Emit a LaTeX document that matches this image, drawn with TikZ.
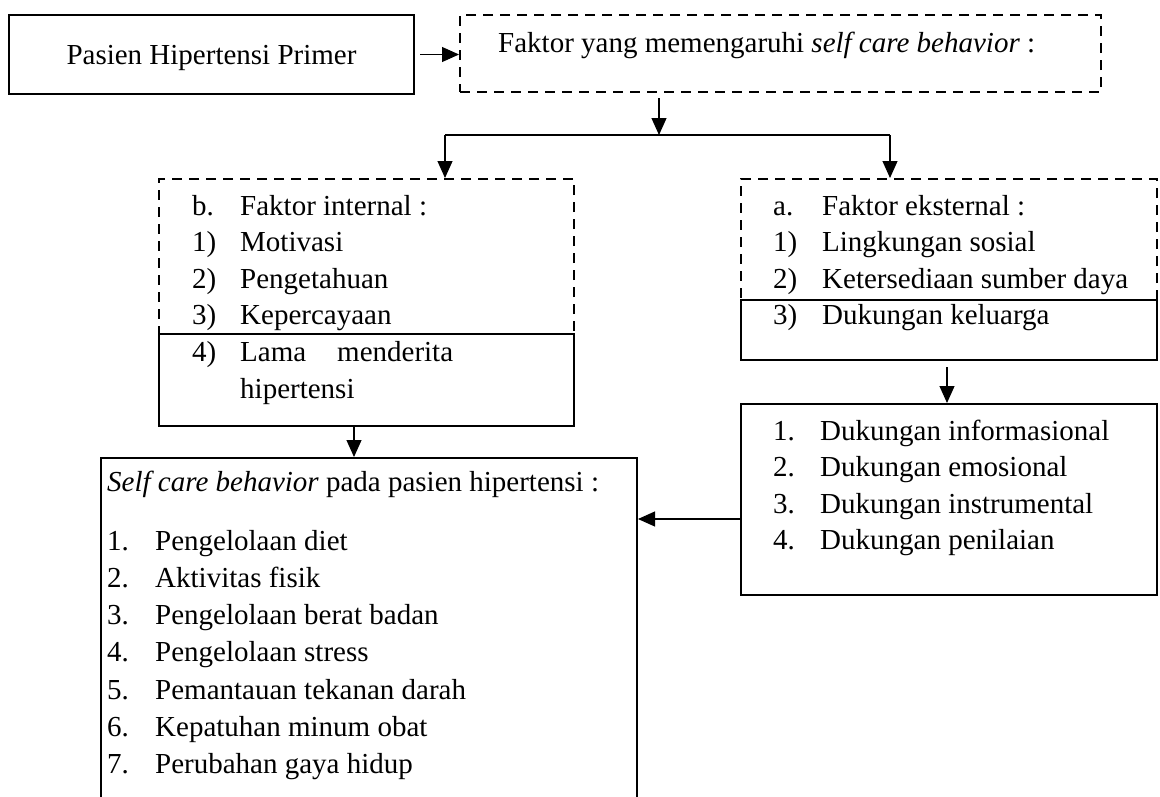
\documentclass[tikz,border=0pt]{standalone}
\usepackage{fontspec}
\setmainfont{Liberation Serif}
\usetikzlibrary{arrows.meta}

\begin{document}
\begin{tikzpicture}[x=1pt,y=-1pt,
  font=\fontsize{29}{36.7}\selectfont,
  kotak/.style={draw,line width=2pt,inner sep=0pt,anchor=north west},
  kotakputus/.style={kotak,dash pattern=on 10pt off 7pt},
  teks/.style={anchor=base west,inner sep=0pt},
  panah/.style={line width=1.1pt,-{Triangle[length=17pt,width=15pt]}}]
  \useasboundingbox (0,0) rectangle (1160,796);
  \clip (0,0) rectangle (1160,796);

  % kotak-kotak
  \node[kotak,minimum width=405pt,minimum height=79pt,text depth=0pt] (pasien) at (8,14) {Pasien Hipertensi Primer};
  \node[kotakputus,minimum width=641pt,minimum height=77pt] (faktor) at (459,14) {};
  \node[kotakputus,minimum width=415pt,minimum height=247pt] (internal) at (158,178) {};
  \node[kotak,line width=2.4pt,minimum width=415pt,minimum height=92pt] (lama) at (158,333) {};
  \node[kotakputus,minimum width=416pt,minimum height=181pt] (eksternal) at (740,178) {};
  \node[kotak,line width=2.4pt,minimum width=416pt,minimum height=60pt] (keluarga) at (740,299) {};
  \node[kotak,minimum width=416pt,minimum height=191pt] (dukungan) at (740,403) {};
  \node[kotak,minimum width=536pt,minimum height=370pt] (selfcare) at (100,457) {};

  % teks
  \node[teks] (faktorteks) at (498,52) {Faktor yang memengaruhi \textit{self care behavior} :};

  \foreach \lab/\isi [count=\i from 0] in {b./Faktor internal :,1)/Motivasi,2)/Pengetahuan,
      3)/Kepercayaan,4)/Lama\hspace{31pt}menderita}{
    \node[teks] (intlab\i) at (192,215+36.6*\i) {\lab};
    \node[teks] (int\i) at (240,215+36.6*\i) {\isi};
  }
  \node[teks] (int5) at (240,398) {hipertensi};

  \foreach \lab/\isi [count=\i from 0] in {a./Faktor eksternal :,1)/Lingkungan sosial,
      2)/Ketersediaan sumber daya,3)/Dukungan keluarga}{
    \node[teks] (ekslab\i) at (773,215+36.6*\i) {\lab};
    \node[teks] (eks\i) at (822,215+36.6*\i) {\isi};
  }

  \foreach \isi [count=\i] in {Dukungan informasional,Dukungan emosional,
      Dukungan instrumental,Dukungan penilaian}{
    \node[teks] (duklab\i) at (773,403.4+36.6*\i) {\i.};
    \node[teks] (duk\i) at (820,403.4+36.6*\i) {\isi};
  }

  \node[teks] (judul) at (107,491) {\textit{Self care behavior} pada pasien hipertensi :};
  \foreach \isi [count=\i] in {Pengelolaan diet,Aktivitas fisik,Pengelolaan berat badan,
      Pengelolaan stress,Pemantauan tekanan darah,Kepatuhan minum obat,Perubahan gaya hidup}{
    \node[teks] (sclab\i) at (107,513+37.2*\i) {\i.};
    \node[teks] (sc\i) at (155,513+37.2*\i) {\isi};
  }

  % panah
  \coordinate (cabang) at (659,135);
  \coordinate (kiri) at (445,135);
  \coordinate (kanan) at (890,135);
  \draw[panah,shorten <=5pt] (pasien.east) -- (pasien.east -| faktor.west);
  \draw[panah,shorten <=5pt] (faktor.south -| cabang) -- (cabang);
  \draw[line width=1.1pt] (kiri) -- (kanan);
  \draw[panah] (kiri) -- (kiri |- internal.north);
  \draw[panah] (kanan) -- (kanan |- eksternal.north);
  \draw[panah] ([xshift=-12.5pt]internal.south) -- ([xshift=-12.5pt]internal.south |- selfcare.north);
  \draw[panah,shorten <=6pt] ([xshift=-2pt]eksternal.south) -- ([xshift=-2pt]eksternal.south |- dukungan.north);
  \draw[panah] ([yshift=-19.5pt]dukungan.west) coordinate (d) -- (d -| selfcare.east);
\end{tikzpicture}
\end{document}
